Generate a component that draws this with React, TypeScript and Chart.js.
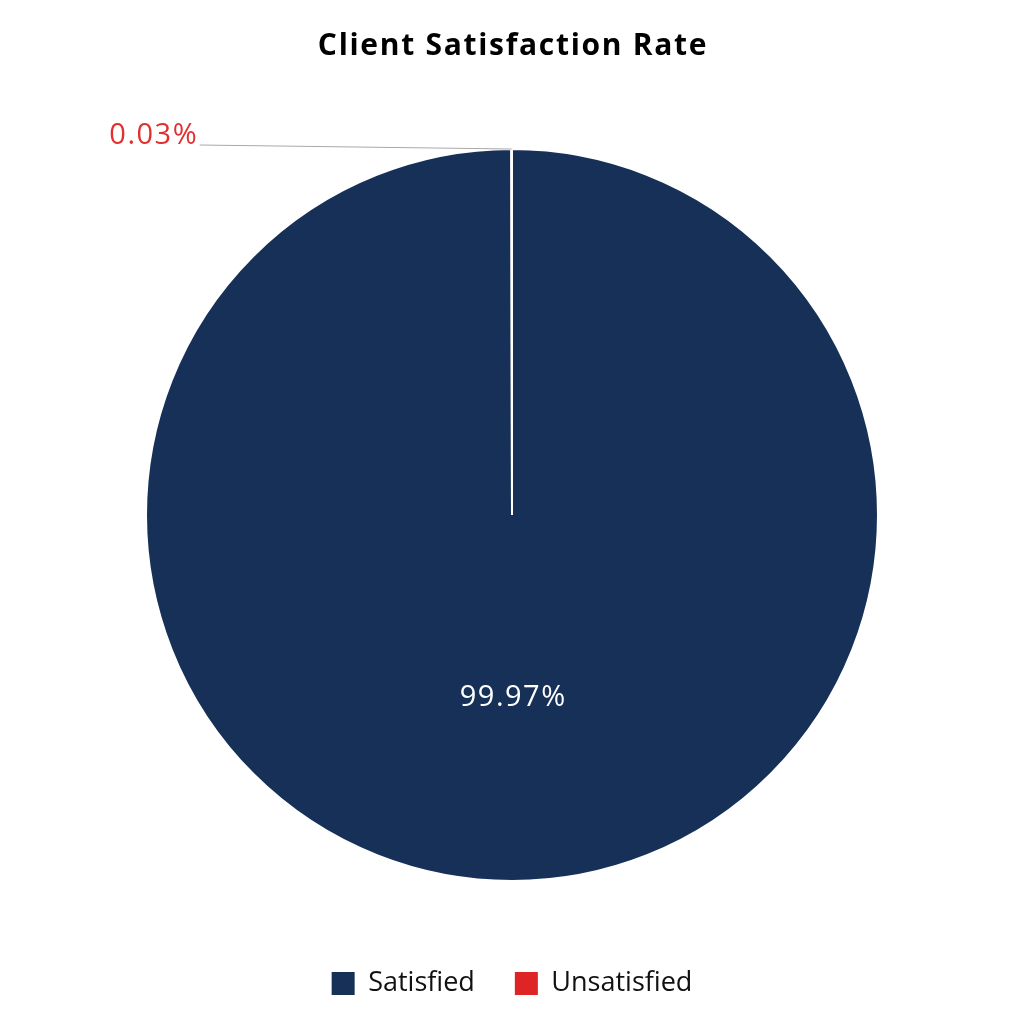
import React, { useEffect, useRef } from "react";
import { Chart, registerables } from "chart.js";

Chart.register(...registerables);

const TITLE = "Client Satisfaction Rate";
const categories = ["Satisfied", "Unsatisfied"];
const values = [99.97, 0.03];
const colors = ["#163057", "#de2424"];
const labelColors = ["#ffffff", "#e03030"];

const FONT = "'Open Sans', 'Noto Sans', sans-serif";

const titlePlugin = {
  id: "customTitle",
  afterDraw(chart: any) {
    const ctx = chart.ctx as CanvasRenderingContext2D;
    ctx.save();
    ctx.font = `bold 30px ${FONT}`;
    (ctx as any).letterSpacing = "1.7px";
    ctx.fillStyle = "#000000";
    ctx.textAlign = "center";
    ctx.textBaseline = "alphabetic";
    ctx.fillText(TITLE, chart.width / 2 + 1, 55);
    ctx.restore();
  },
};

const sliceLabels = {
  id: "sliceLabels",
  afterDatasetsDraw(chart: any) {
    const meta = chart.getDatasetMeta(0);
    const ctx = chart.ctx as CanvasRenderingContext2D;
    const total = values.reduce((a, b) => a + b, 0);
    ctx.save();
    ctx.font = `29px ${FONT}`;
    (ctx as any).letterSpacing = "1.5px";
    meta.data.forEach((arc: any, i: number) => {
      const p = arc.getProps(["x", "y", "startAngle", "endAngle", "outerRadius"], true);
      const mid = (p.startAngle + p.endAngle) / 2;
      const text = values[i].toFixed(2) + "%";
      if (values[i] / total > 0.05) {
        const r = p.outerRadius * 0.5;
        ctx.fillStyle = labelColors[i];
        ctx.textAlign = "center";
        ctx.textBaseline = "middle";
        ctx.fillText(text, p.x + Math.cos(mid) * r + 1, p.y + Math.sin(mid) * r);
      } else {
        const ex = p.x + Math.cos(mid) * p.outerRadius;
        const ey = p.y + Math.sin(mid) * p.outerRadius;
        const lx = ex - 312;
        const ly = ey - 4;
        ctx.strokeStyle = "#a8a8a8";
        ctx.lineWidth = 1;
        ctx.beginPath();
        ctx.moveTo(ex, ey);
        ctx.lineTo(lx, ly);
        ctx.stroke();
        ctx.fillStyle = labelColors[i];
        ctx.textAlign = "right";
        ctx.textBaseline = "alphabetic";
        ctx.fillText(text, lx - 1.5, ly - 1);
      }
    });
    ctx.restore();
  },
};

export default function App() {
  const ref = useRef<HTMLCanvasElement | null>(null);
  useEffect(() => {
    if (!ref.current) return;
    const chart = new Chart(ref.current, {
      type: "pie",
      data: {
        labels: categories,
        datasets: [
          {
            data: values,
            backgroundColor: colors,
            borderColor: "#ffffff",
            borderWidth: 2,
          },
        ],
      },
      options: {
        animation: false,
        responsive: false,
        layout: { padding: { left: 145, right: 145, top: 100, bottom: 17 } },
        plugins: {
          title: { display: false, text: TITLE },
          legend: {
            display: true,
            position: "bottom",
            labels: {
              color: "#111111",
              font: { family: FONT, size: 27 },
              boxWidth: 23,
              boxHeight: 23,
              padding: 40,
              generateLabels: () =>
                categories.map((c, i) => ({
                  text: c,
                  fillStyle: colors[i],
                  strokeStyle: colors[i],
                  lineWidth: 0,
                  hidden: false,
                  index: i,
                  fontColor: "#111111",
                })),
            },
          },
          tooltip: { enabled: false },
        },
      },
      plugins: [sliceLabels, titlePlugin],
    });
    return () => chart.destroy();
  }, []);
  return (
    <div style={{ position: "absolute", left: 0, top: 0, width: 1024, height: 1024, background: "#fff" }}>
      <canvas ref={ref} width={1024} height={1024} style={{ width: 1024, height: 1024 }} />
    </div>
  );
}
